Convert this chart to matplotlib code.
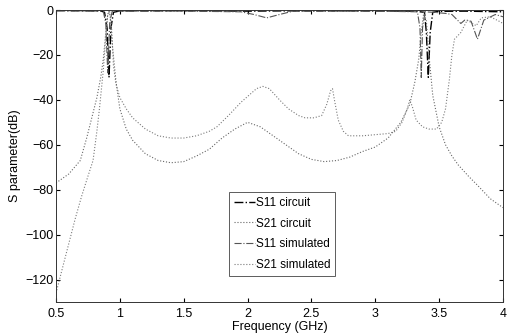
import matplotlib
matplotlib.use("Agg")
import matplotlib.pyplot as plt

plt.rcParams["font.family"] = ["Liberation Sans", "DejaVu Sans"]

# S11 circuit (GHz, dB)
s11c_f = [0.5, 0.85, 0.88, 0.90, 0.915, 0.93, 0.95, 1.0, 1.5, 2.0, 2.5, 3.0, 3.3,
          3.385, 3.40, 3.415, 3.43, 3.45, 3.5, 3.7, 4.0]
s11c_db = [-0.3, -0.4, -1, -8, -30, -8, -1, -0.4, -0.3, -0.5, -0.3, -0.4, -0.5,
           -1, -10, -30, -10, -1, -0.6, -0.5, -0.8]

# S21 circuit
s21c_f = [0.5, 0.6, 0.69, 0.74, 0.78, 0.82, 0.85, 0.87, 0.89, 0.905, 0.915, 0.925,
          0.94, 0.97, 1.0, 1.05, 1.1, 1.2, 1.3, 1.4, 1.5, 1.6, 1.7, 1.8, 1.9, 2.0,
          2.1, 2.2, 2.3, 2.4, 2.5, 2.6, 2.7, 2.8, 2.9, 3.0, 3.1, 3.2, 3.27, 3.31,
          3.34, 3.36, 3.38, 3.40, 3.42, 3.45, 3.5, 3.55, 3.6, 3.65, 3.73, 3.8, 3.9, 4.0]
s21c_db = [-77, -73, -67, -57, -48, -39, -30, -22, -10, -2, -0.5, -3,
           -15, -32, -44, -53, -58, -64, -67, -68, -67.5, -65, -62, -57, -53, -50,
           -52, -56, -60, -64, -66.5, -67.5, -67, -65.5, -63, -61, -57, -50, -42, -32,
           -22, -10, -1, -5, -20, -38, -52, -60, -65, -69, -74, -78, -84, -88]

# S11 simulated
s11s_f = [0.5, 0.87, 0.89, 0.905, 0.92, 0.94, 1.5, 1.95, 2.05, 2.15, 2.25, 2.35,
          3.0, 3.33, 3.35, 3.36, 3.37, 3.39, 3.45, 3.55, 3.6, 3.67, 3.7, 3.75, 3.8,
          3.85, 3.94, 4.0]
s11s_db = [-0.2, -0.5, -6, -28, -6, -0.5, -0.5, -0.8, -2, -3.5, -2, -0.6,
           -0.5, -0.8, -8, -30, -8, -0.8, -1, -1.5, -2, -6, -4.5, -5, -13,
           -4.5, -2, -3]

# S21 simulated
s21s_f = [0.5, 0.55, 0.6, 0.65, 0.7, 0.75, 0.79, 0.82, 0.84, 0.87, 0.89, 0.905,
          0.92, 0.935, 0.95, 0.97, 1.0, 1.05, 1.1, 1.2, 1.3, 1.4, 1.5, 1.6, 1.7,
          1.76, 1.85, 1.95, 2.0, 2.07, 2.12, 2.17, 2.25, 2.32, 2.4, 2.45, 2.52,
          2.58, 2.62, 2.65, 2.665, 2.68, 2.71, 2.75, 2.79, 2.9, 3.0, 3.1, 3.16,
          3.21, 3.25, 3.27, 3.29, 3.32, 3.37, 3.42, 3.48, 3.52, 3.55, 3.58, 3.6,
          3.62, 3.67, 3.72, 3.79, 3.83, 3.9, 3.97, 4.0]
s21s_db = [-126, -115, -104, -93, -83, -74, -67, -54, -44, -27, -12, -2,
           -0.5, -8, -25, -33, -39, -44, -48, -53, -56, -57, -57, -56, -54,
           -52, -47, -41, -38.5, -35, -34, -35, -40, -44, -47, -48, -48,
           -47, -42, -36, -35, -40, -49, -54, -56, -56, -55.5, -55, -54,
           -50, -44, -40, -43, -49, -52, -53, -53, -50, -44, -31, -20,
           -13, -10, -4.5, -7, -3.5, -3, -5, -6]

xticks = [0.5, 1, 1.5, 2, 2.5, 3, 3.5, 4]
xtick_labels = ["0.5", "1", "1.5", "2", "2.5", "3", "3.5", "4"]
yticks = [0, -20, -40, -60, -80, -100, -120]

fig = plt.figure(figsize=(5.12, 3.35), dpi=100)
ax = fig.add_axes([0.1094, 0.0985, 0.873, 0.8716])

ax.plot(s11c_f, s11c_db, "-.", color="black", lw=1.0, label="S11 circuit")
ax.plot(s21c_f, s21c_db, ":", color="#666666", lw=0.8, label="S21 circuit")
ax.plot(s11s_f, s11s_db, "-.", color="#555555", lw=0.8, label="S11 simulated")
ax.plot(s21s_f, s21s_db, ":", color="#7a7a7a", lw=0.8, label="S21 simulated")

ax.set_xlim(0.5, 4)
ax.set_ylim(-130, 0)
ax.set_xticks(xticks)
ax.set_xticklabels(xtick_labels)
ax.set_yticks(yticks)
ax.tick_params(direction="in", top=True, right=True, labelsize=9, length=3)
ax.tick_params(axis="x", pad=4)
ax.tick_params(axis="y", pad=2)
for sp in ax.spines.values():
    sp.set_linewidth(0.7)
    sp.set_color("#333333")

ax.set_xlabel("Frequency (GHz)", fontsize=9, labelpad=1)
ax.set_ylabel("S parameter(dB)", fontsize=9, labelpad=3)

leg = ax.legend(loc="upper left", bbox_to_anchor=(0.387, 0.377), fontsize=8.5,
                frameon=True, fancybox=False, edgecolor="#333333",
                handlelength=1.8, handletextpad=0.1, borderpad=0.4,
                labelspacing=0.75, borderaxespad=0)
leg.get_frame().set_linewidth(0.7)

fig.savefig("out.png", dpi=100)
